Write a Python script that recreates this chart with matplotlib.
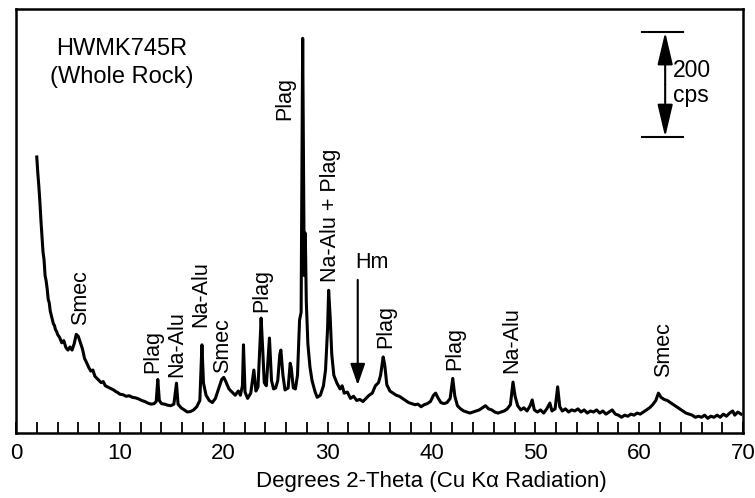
"""
XRD pattern of HWMK745R whole rock, redrawn from the published figure.
Intensities are read off the picture in cps (the 200 cps bar sets the scale).
"""

import matplotlib
matplotlib.use("Agg")
import matplotlib.pyplot as plt
import numpy as np

plt.rcParams["font.family"] = ["Liberation Sans", "DejaVu Sans"]

# trace: 2-theta (deg) and intensity (cps)
two_theta = [
    2.0, 2.05, 2.1, 2.2, 2.3, 2.4, 2.5, 2.6, 2.7, 2.8, 2.9, 3.0, 3.1, 3.2, 3.3,
    3.4, 3.5, 3.6, 3.7, 3.8, 3.9, 4.0, 4.2, 4.4, 4.6, 4.8, 5.0, 5.2, 5.4, 5.6,
    5.8, 6.0, 6.2, 6.4, 6.6, 6.8, 7.0, 7.2, 7.4, 7.6, 7.8, 8.0, 8.2, 8.4, 8.6,
    8.8, 9.0, 9.2, 9.4, 9.6, 9.8, 10.0, 10.3, 10.6, 10.9, 11.2, 11.5, 11.8,
    12.1, 12.4, 12.7, 13.0, 13.3, 13.5, 13.65, 13.8, 14.0, 14.3, 14.6, 14.9,
    15.2, 15.45, 15.6, 15.9, 16.2, 16.5, 16.8, 17.1, 17.4, 17.7, 17.9, 18.05,
    18.3, 18.6, 18.9, 19.2, 19.5, 19.8, 20.0, 20.2, 20.5, 20.8, 21.1, 21.4,
    21.6, 21.8, 21.9, 22.05, 22.3, 22.6, 22.9, 23.1, 23.3, 23.6, 23.75, 23.9,
    24.1, 24.3, 24.4, 24.6, 24.8, 25.0, 25.2, 25.4, 25.5, 25.7, 25.9, 26.2,
    26.4, 26.5, 26.7, 26.9, 27.1, 27.3, 27.45, 27.6, 27.75, 27.85, 27.95, 28.1,
    28.3, 28.5, 28.8, 29.0, 29.3, 29.6, 29.8, 30.0, 30.1, 30.25, 30.4, 30.6,
    30.9, 31.2, 31.4, 31.6, 31.9, 32.2, 32.5, 32.8, 33.1, 33.4, 33.7, 34.0,
    34.3, 34.6, 34.9, 35.1, 35.35, 35.5, 35.7, 36.0, 36.3, 36.6, 36.9, 37.2,
    37.5, 37.8, 38.1, 38.4, 38.7, 39.0, 39.3, 39.6, 39.9, 40.2, 40.4, 40.6,
    40.9, 41.2, 41.5, 41.8, 42.05, 42.25, 42.5, 42.8, 43.1, 43.4, 43.7, 44.0,
    44.3, 44.6, 44.9, 45.2, 45.5, 45.8, 46.1, 46.4, 46.7, 47.0, 47.3, 47.6,
    47.85, 48.05, 48.3, 48.6, 48.9, 49.2, 49.5, 49.7, 49.9, 50.2, 50.5, 50.8,
    51.1, 51.4, 51.6, 51.9, 52.15, 52.35, 52.6, 52.9, 53.2, 53.5, 53.8, 54.1,
    54.4, 54.7, 55.0, 55.3, 55.6, 55.9, 56.2, 56.5, 56.8, 57.1, 57.4, 57.7,
    58.0, 58.3, 58.6, 58.9, 59.2, 59.5, 59.8, 60.1, 60.4, 60.7, 61.0, 61.3,
    61.6, 61.85, 62.1, 62.4, 62.7, 63.0, 63.3, 63.6, 63.9, 64.2, 64.5, 64.8,
    65.1, 65.4, 65.7, 66.0, 66.3, 66.6, 66.9, 67.2, 67.5, 67.8, 68.1, 68.4,
    68.7, 69.0, 69.2, 69.5, 69.8,
]
intensity = [
    526, 510, 495, 470, 440, 405, 375, 345, 330, 300, 290, 275, 255, 248, 232,
    224, 216, 208, 205, 197, 194, 188, 182, 172, 176, 163, 158, 164, 158, 170,
    188, 184, 172, 160, 142, 134, 125, 118, 120, 108, 104, 100, 96, 98, 90,
    88, 86, 84, 82, 79, 77, 74, 73, 70, 71, 68, 67, 65,
    62, 60, 57, 55, 56, 60, 102, 62, 56, 55, 53, 52,
    55, 95, 55, 48, 44, 40, 41, 44, 50, 62, 168, 95,
    72, 62, 58, 66, 84, 102, 106, 98, 84, 78, 72, 80,
    72, 90, 168, 78, 66, 76, 120, 80, 88, 219, 160, 96,
    90, 150, 181, 100, 84, 86, 100, 150, 158, 110, 82, 86,
    133, 124, 86, 84, 110, 215, 230, 752, 300, 381, 250, 170,
    126, 100, 78, 68, 72, 90, 120, 200, 272, 220, 150, 110,
    95, 84, 90, 76, 78, 66, 70, 62, 64, 60, 66, 72,
    76, 90, 96, 110, 145, 130, 92, 80, 76, 72, 70, 66,
    62, 58, 56, 54, 55, 50, 54, 56, 60, 72, 76, 68,
    58, 56, 58, 66, 104, 70, 52, 46, 42, 40, 38, 40,
    42, 44, 48, 52, 46, 44, 40, 38, 40, 42, 46, 54,
    97, 70, 52, 44, 48, 42, 52, 63, 44, 40, 44, 38,
    46, 57, 42, 46, 88, 50, 42, 46, 40, 44, 42, 46,
    40, 44, 38, 42, 40, 44, 38, 42, 36, 40, 44, 36,
    34, 30, 34, 32, 36, 34, 38, 36, 40, 44, 48, 54,
    62, 76, 68, 64, 62, 58, 54, 50, 46, 42, 38, 36,
    34, 30, 32, 30, 34, 28, 32, 30, 34, 30, 36, 32,
    38, 42, 34, 40, 36,
]

# phase labels: text, 2-theta position, intensity at the bottom of the label
peak_labels = ["Smec", "Plag", "Na-Alu", "Na-Alu", "Smec", "Plag", "Plag",
               "Na-Alu + Plag", "Plag", "Plag", "Na-Alu", "Smec"]
label_theta = [6.2, 13.2, 15.5, 17.8, 19.9, 23.7, 25.9, 30.3, 35.6, 42.25,
               47.7, 62.3]
label_cps = [206, 114, 107, 202, 114, 230, 596, 288, 162, 120, 114, 107]

# hematite arrow and 200 cps scale bar
hm_theta = 32.9
hm_top, hm_tip = 297, 86
bar_theta = 62.5
bar_top, bar_bottom = 764, 564

fig = plt.figure(figsize=(7.55, 4.98), dpi=100)
ax = fig.add_axes([0.0212, 0.1305, 0.963, 0.8515])

ax.plot(two_theta, intensity, color="black", linewidth=2.2)

for text, x, y in zip(peak_labels, label_theta, label_cps):
    ax.text(x, y, text, rotation=90, ha="center", va="bottom", fontsize=15.5)

ax.annotate("", xy=(hm_theta, hm_tip), xytext=(hm_theta, hm_top),
            arrowprops=dict(arrowstyle="-|>,head_length=1.3,head_width=0.45",
                            color="black", linewidth=1.5))
ax.text(hm_theta - 0.2, hm_top + 28, "Hm", ha="left", va="center",
        fontsize=15.5)

# scale bar
ax.plot([bar_theta - 2.2, bar_theta + 1.7], [bar_top, bar_top],
        color="black", linewidth=1.5)
ax.plot([bar_theta - 2.2, bar_theta + 1.7], [bar_bottom, bar_bottom],
        color="black", linewidth=1.5)
mid = (bar_top + bar_bottom) / 2
for end in (bar_top, bar_bottom):
    ax.annotate("", xy=(bar_theta, end), xytext=(bar_theta, mid),
                arrowprops=dict(arrowstyle="-|>,head_length=2.0,head_width=0.47",
                                color="black", linewidth=1.5,
                                shrinkA=0, shrinkB=0))
ax.text(bar_theta + 0.75, mid + 3, "200\ncps", ha="left", va="center",
        fontsize=16.5, linespacing=1.15)

ax.text(10.2, 705, "HWMK745R\n(Whole Rock)", ha="center", va="center",
        fontsize=17, linespacing=1.35)

ax.set_xlim(0, 70)
ax.set_ylim(0, 808)
ax.set_xticks(np.arange(0, 71, 10))
ax.set_xticks(np.arange(0, 71, 2), minor=True)
ax.set_yticks([])
ax.tick_params(axis="x", which="both", direction="in", length=8, width=1.3,
               labelsize=16, pad=7)
for spine in ax.spines.values():
    spine.set_linewidth(1.8)
ax.set_xlabel("Degrees 2-Theta (Cu K\u03b1 Radiation)", fontsize=16)
ax.xaxis.set_label_coords(0.571, -0.09)

fig.savefig("out.png", dpi=100)
